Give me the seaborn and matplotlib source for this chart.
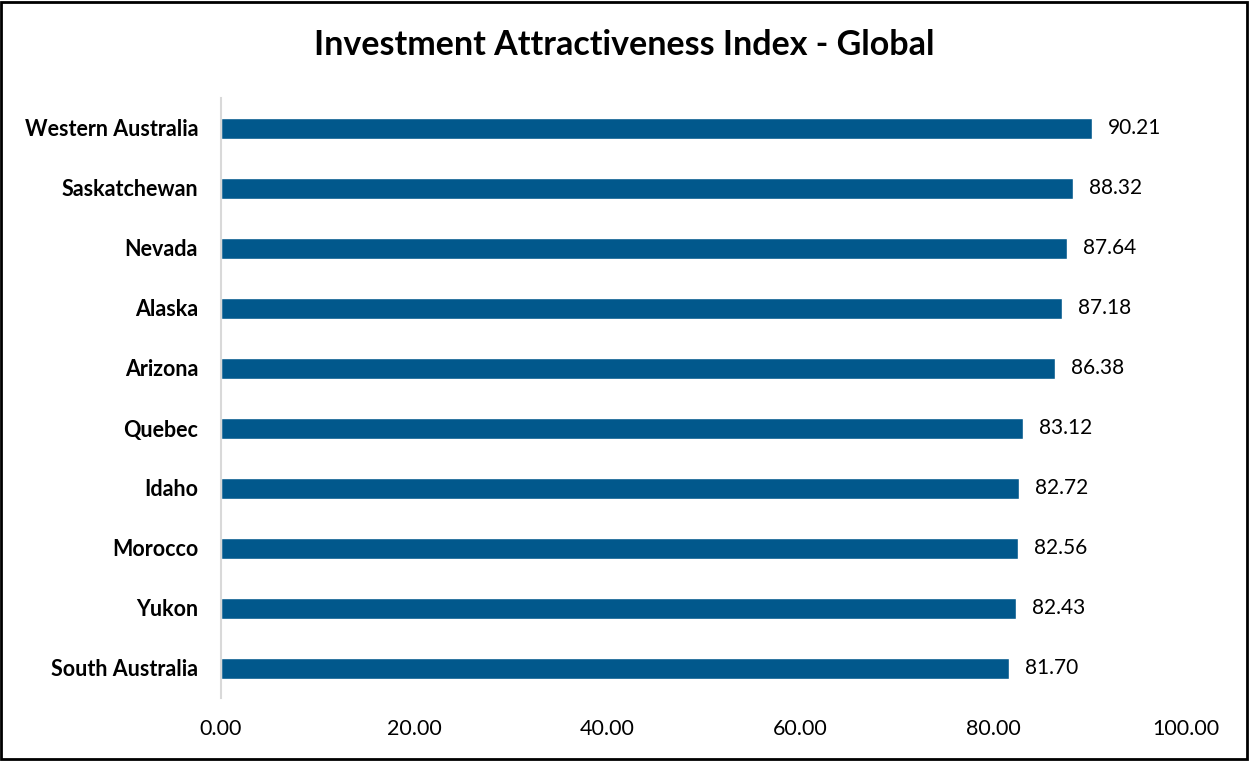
import matplotlib
matplotlib.use("Agg")
import matplotlib.pyplot as plt
import seaborn as sns
import pandas as pd
from matplotlib.patches import Rectangle

regions = ["Western Australia", "Saskatchewan", "Nevada", "Alaska", "Arizona",
           "Quebec", "Idaho", "Morocco", "Yukon", "South Australia"]
scores = [90.21, 88.32, 87.64, 87.18, 86.38, 83.12, 82.72, 82.56, 82.43, 81.70]
x_ticks = [0, 20, 40, 60, 80, 100]

sns.set_theme(style="white")
plt.rcParams['font.family'] = ['Lato', 'DejaVu Sans']

df = pd.DataFrame({"region": regions, "score": scores})

fig = plt.figure(figsize=(12.49, 7.61), dpi=100)
ax = fig.add_axes([221/1249, 63/761, 965/1249, 600/761])

sns.barplot(data=df, y="region", x="score", color="#01588C", width=0.35,
            saturation=1, ax=ax, orient="h")

ax.set_xlim(0, 100)
ax.set_xticks(x_ticks)
ax.set_xticklabels([f"{t:.2f}" for t in x_ticks], fontsize=15.5, color="#000000")
ax.set_ylim(len(regions) - 0.5, -0.5)
ax.set_xlabel("")
ax.set_ylabel("")
for lbl in ax.get_yticklabels():
    lbl.set_fontweight("bold")
    lbl.set_fontsize(15.5)
    lbl.set_color("#000000")
ax.tick_params(axis="x", length=0, pad=15)
ax.tick_params(axis="y", length=0, pad=16.5)

for side in ["top", "right", "bottom"]:
    ax.spines[side].set_visible(False)
ax.spines["left"].set_color("#D9D9D9")
ax.spines["left"].set_linewidth(1.5)

for cont in ax.containers:
    ax.bar_label(cont, labels=[f"{v:.2f}" for v in scores], padding=11.5,
                 fontsize=15, color="#000000")

fig.text(0.5, 1 - 45/761, "Investment Attractiveness Index - Global",
         ha="center", va="center", fontsize=24.5, fontweight="bold", color="#000000")

fig.patches.append(Rectangle((0.001, 0.002), 0.997, 0.996, transform=fig.transFigure,
                             fill=False, edgecolor="#000000", linewidth=2))

fig.savefig("out.png", dpi=100)
